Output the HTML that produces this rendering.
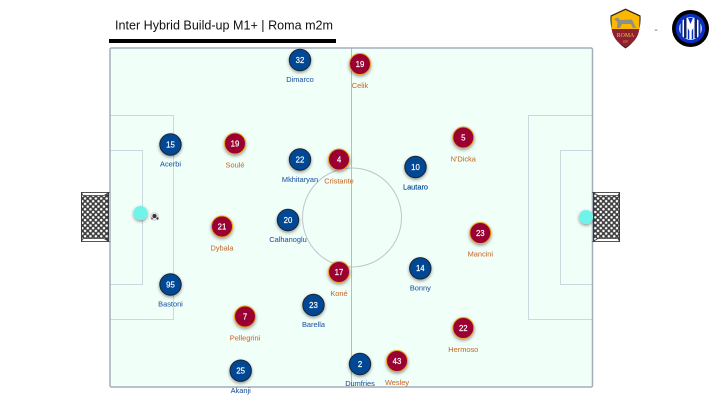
<!DOCTYPE html>
<html>
<head>
<meta charset="utf-8">
<style>
html,body{margin:0;padding:0;background:#fff;width:720px;height:405px;overflow:hidden}
svg{display:block}
text{font-family:"Liberation Sans",sans-serif}
.n{font-size:7.8px;fill:#fff;text-anchor:middle;stroke:#fff;stroke-width:.18}
.i{font-size:7.4px;fill:#2659a0;text-anchor:middle;stroke:#2659a0;stroke-width:.06}
.r{font-size:7.4px;fill:#c86e32;text-anchor:middle;stroke:#c86e32;stroke-width:.06}
</style>
</head>
<body>
<svg width="720" height="405" viewBox="0 0 720 405" xmlns="http://www.w3.org/2000/svg">
<defs>
<filter id="s" x="-50%" y="-50%" width="200%" height="200%"><feDropShadow dx="0" dy="1.5" stdDeviation="1.6" flood-color="#000" flood-opacity=".42"/></filter>
<pattern id="net" width="5.400" height="5.400" patternUnits="userSpaceOnUse"><rect width="5.400" height="5.400" fill="#3c3c3c"/><circle cx="1.350" cy="1.350" r="1.250" fill="#fff"/><circle cx="4.050" cy="4.050" r="1.250" fill="#fff"/></pattern>
</defs>
<text x="224" y="29.500" font-size="13" fill="#111" text-anchor="middle" textLength="218" lengthAdjust="spacingAndGlyphs">Inter Hybrid Build-up M1+ | Roma m2m</text>
<rect x="109" y="39" width="227" height="4" fill="#000"/>

<rect x="110" y="48" width="482.500" height="339" rx="1.500" fill="#f1fff9"/>
<g fill="none" stroke="#cdd8dc" stroke-width="1">
<path d="M110 115.500H173.500V319.500H110"/>
<path d="M110 150.500H142.500V284.500H110"/>
<path d="M592 115.500H528.500V319.500H592"/>
<path d="M592 150.500H560.500V284.500H592"/>
</g>
<circle cx="352" cy="217.500" r="49.500" fill="none" stroke="#bcc6cb" stroke-width="1"/>
<line x1="351.500" y1="48" x2="351.500" y2="387" stroke="#b3bec4" stroke-width="1"/>
<rect x="110" y="48" width="482.500" height="339" rx="1.500" fill="none" stroke="#a6adba" stroke-width="1.500"/>

<!-- goals -->
<g>
<rect x="81.500" y="192.500" width="27" height="49" fill="url(#net)" stroke="#3c3c3c" stroke-width="1"/>
<path d="M81.500 192.500H109L104 195.500H83Z" fill="#fff" stroke="#3c3c3c" stroke-width=".8"/>
<path d="M81.500 241.500H109L104 238.500H83Z" fill="#fff" stroke="#3c3c3c" stroke-width=".8"/>
<rect x="593.500" y="192.500" width="26" height="49" fill="url(#net)" stroke="#3c3c3c" stroke-width="1"/>
<path d="M619.500 192.500H593L598 195.500H618Z" fill="#fff" stroke="#3c3c3c" stroke-width=".8"/>
<path d="M619.500 241.500H593L598 238.500H618Z" fill="#fff" stroke="#3c3c3c" stroke-width=".8"/>
</g>

<!-- keepers & ball -->
<circle cx="140.500" cy="213" r="7" fill="#6ff3ea" filter="url(#s)"/>
<circle cx="586" cy="217" r="7" fill="#6ff3ea" filter="url(#s)"/>
<circle cx="154.500" cy="216.500" r="4.500" fill="#ddd"/>
<circle cx="154.500" cy="216" r="2" fill="#333"/>
<circle cx="157.500" cy="218.500" r="1.200" fill="#444"/>
<circle cx="152" cy="218.500" r="1" fill="#666"/>

<!-- Inter -->
<g fill="#034694" stroke="#1c2430" stroke-width="1" filter="url(#s)">
<circle cx="300" cy="60" r="10.700"/>
<circle cx="170.500" cy="144.500" r="10.700"/>
<circle cx="300" cy="159.500" r="10.700"/>
<circle cx="415.500" cy="167" r="10.700"/>
<circle cx="288" cy="220" r="10.700"/>
<circle cx="170.500" cy="284.500" r="10.700"/>
<circle cx="313.500" cy="305" r="10.700"/>
<circle cx="240.700" cy="370.700" r="10.700"/>
<circle cx="420.300" cy="268.300" r="10.700"/>
<circle cx="360" cy="364" r="10.700"/>
</g>
<!-- Roma -->
<g fill="#9b0032" stroke="#e8a317" stroke-width="1" filter="url(#s)">
<circle cx="360" cy="64" r="10.500"/>
<circle cx="235" cy="143.500" r="10.500"/>
<circle cx="339" cy="159.500" r="10.500"/>
<circle cx="463.300" cy="137.500" r="10.500"/>
<circle cx="222" cy="226.500" r="10.500"/>
<circle cx="339" cy="272" r="10.500"/>
<circle cx="245" cy="316.500" r="10.500"/>
<circle cx="480.300" cy="233" r="10.500"/>
<circle cx="463.300" cy="328" r="10.500"/>
<circle cx="397" cy="361" r="10.500"/>
</g>

<text class="n" x="300" y="62.800">32</text><text class="i" x="300" y="82">Dimarco</text>
<text class="n" x="170.500" y="147.300">15</text><text class="i" x="170.500" y="166.500">Acerbi</text>
<text class="n" x="300" y="162.300">22</text><text class="i" x="300" y="182">Mkhitaryan</text>
<text class="n" x="415.500" y="169.800">10</text><text class="i" x="415.500" y="189.500" style="fill:#034694;stroke:#034694;stroke-width:.15">Lautaro</text>
<text class="n" x="288" y="222.800">20</text><text class="i" x="288" y="242">Calhanoglu</text>
<text class="n" x="170.500" y="287.300">95</text><text class="i" x="170.500" y="306.500">Bastoni</text>
<text class="n" x="313.500" y="307.800">23</text><text class="i" x="313.500" y="327">Barella</text>
<text class="n" x="240.700" y="373.500">25</text><text class="i" x="240.700" y="393">Akanji</text>
<text class="n" x="420.300" y="271.100">14</text><text class="i" x="420.300" y="290.500">Bonny</text>
<text class="n" x="360" y="366.800">2</text><text class="i" x="360" y="386">Dumfries</text>

<text class="n" x="360" y="66.800">19</text><text class="r" x="360" y="88">Celik</text>
<text class="n" x="235" y="146.300">19</text><text class="r" x="235" y="167.500">Soulé</text>
<text class="n" x="339" y="162.300">4</text><text class="r" x="339" y="183.500">Cristante</text>
<text class="n" x="463.300" y="140.300">5</text><text class="r" x="463.300" y="161.500">N'Dicka</text>
<text class="n" x="222" y="229.300">21</text><text class="r" x="222" y="250.500">Dybala</text>
<text class="n" x="339" y="274.800">17</text><text class="r" x="339" y="296">Koné</text>
<text class="n" x="245" y="319.300">7</text><text class="r" x="245" y="340.500">Pellegrini</text>
<text class="n" x="480.300" y="235.800">23</text><text class="r" x="480.300" y="256.500">Mancini</text>
<text class="n" x="463.300" y="330.800">22</text><text class="r" x="463.300" y="352">Hermoso</text>
<text class="n" x="397" y="363.800">43</text><text class="r" x="397" y="385">Wesley</text>

<!-- Roma crest -->
<path d="M625.500 8.500L640.500 15.500C641.500 29 636 42 625.500 48.500C615 42 609.500 29 610.500 15.500Z" fill="#3a2a20"/>
<path d="M625.500 10L639.500 16.500L639.300 29H611.700L611.500 16.500Z" fill="#fbb800"/>
<path d="M611.700 29H639.300C638.500 37 633.500 43.500 625.500 47C617.500 43.500 612.500 37 611.700 29Z" fill="#8e1f2f"/>
<path d="M614 19L618 17.500L620 20L632 19.500L636 28H633L631 24H622L620 28H617L617.500 22Z" fill="#8f8f8a"/>
<text x="625.500" y="37" font-size="5.800" fill="#f0c040" text-anchor="middle" style="font-family:'Liberation Serif',serif">ROMA</text>
<text x="625.500" y="42.500" font-size="2.500" fill="#e8c060" text-anchor="middle">1927</text>

<text x="656" y="33" font-size="10" fill="#555" text-anchor="middle">-</text>

<!-- Inter crest -->
<circle cx="690.500" cy="28.500" r="18.500" fill="#000"/>
<circle cx="690.500" cy="28.500" r="14.800" fill="#0a2fc4"/>
<circle cx="690.500" cy="28.500" r="11.300" fill="#fff"/>
<g fill="#0a2fc4">
<path d="M684 18.500L686.500 17.800V38.500L684 38Z" fill="#12235f"/>
<path d="M688 18L693 18L690.500 24Z"/>
<path d="M687.800 28L689.300 31V39H687.800Z"/>
<path d="M693.200 28L691.700 31V39H693.200Z"/>
<path d="M694.500 17.800L697 18.500V38L694.500 38.500Z" fill="#12235f"/>
<path d="M680.500 21.500L682.500 19.500V37.500L680.500 35.500Z"/>
<path d="M700.500 21.500L698.500 19.500V37.500L700.500 35.500Z"/>
</g>
</svg>
</body>
</html>
